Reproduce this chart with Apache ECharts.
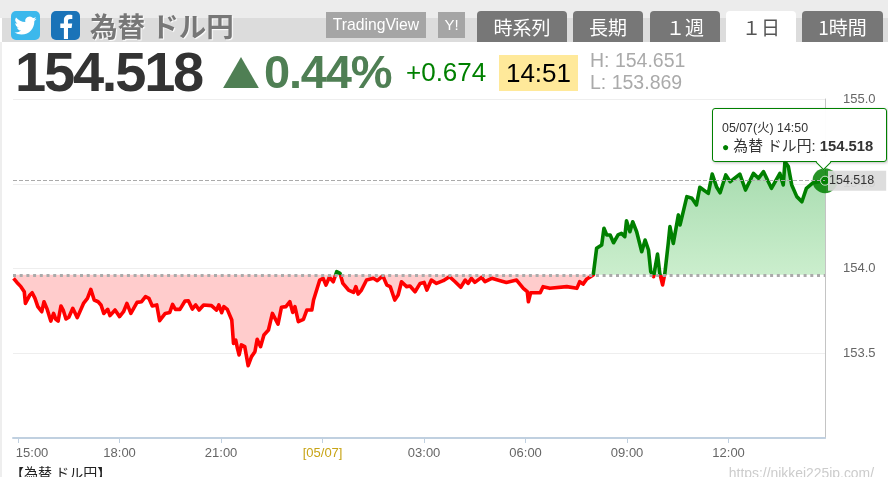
<!DOCTYPE html>
<html><head><meta charset="utf-8">
<script src="https://cdn.jsdelivr.net/npm/echarts@6/dist/echarts.min.js"></script>
<style>
html,body{margin:0;padding:0;background:#fff;width:888px;height:477px;overflow:hidden;font-family:"Liberation Sans",Arial,sans-serif}
#chart{position:absolute;left:0;top:0;width:888px;height:477px}
.a{position:absolute;white-space:nowrap;z-index:5}
.jp{font-family:"Noto Sans CJK JP","Liberation Sans",sans-serif}
.tab{top:11px;height:31px;line-height:31px;background:#777;color:#fff;text-align:center;border-radius:4px 4px 0 0;font-size:19px}
.btn{top:12px;height:26px;line-height:25px;background:#a5a5a5;color:#fff;text-align:center}
</style></head><body>
<div class="a" style="left:0;top:0;width:888px;height:18px;background:#ececec"></div>
<div class="a" style="left:2px;top:18px;width:886px;height:24px;background:#dcdcdc"></div>
<div class="a" style="left:0;top:42px;width:2px;height:435px;background:#eee"></div>
<svg class="a" style="left:11px;top:11px" width="29" height="29" viewBox="0 0 29 29"><rect width="29" height="29" rx="5" fill="#3cb8ec"/><path transform="translate(3.5,3.5) scale(0.92)" fill="#fff" d="M23.95 4.57a10 10 0 0 1-2.82.77 4.96 4.96 0 0 0 2.16-2.72c-.95.55-2 .95-3.12 1.18a4.92 4.92 0 0 0-8.38 4.48C7.69 8.09 4.07 6.13 1.64 3.16a4.9 4.9 0 0 0 1.52 6.56 4.9 4.9 0 0 1-2.23-.61v.06a4.92 4.92 0 0 0 3.95 4.83 5 5 0 0 1-2.21.08 4.94 4.94 0 0 0 4.6 3.42A9.87 9.87 0 0 1 0 19.54a13.94 13.94 0 0 0 7.55 2.21c9.05 0 14-7.5 14-14 0-.21 0-.42-.02-.63a9.9 9.9 0 0 0 2.46-2.55z"/></svg>
<svg class="a" style="left:51px;top:11px" width="29" height="29" viewBox="0 0 29 29"><rect width="29" height="29" rx="5" fill="#1a73b8"/><path fill="#fff" d="M19 29V18h3.6l.6-4.4H19v-2.6c0-1.3.4-2.1 2.2-2.1h2.1V5c-.4 0-1.700-.2-3.100-.2-3.200 0-5.300 1.900-5.300 5.500v3.300h-3.600V18h3.600v11z" transform="translate(-2,-1)"/></svg>
<div class="a jp" style="left:90px;top:5px;font-size:27.500px;line-height:40px;font-weight:700;color:#777;text-shadow:1px 1px 1px #fff">為替 ドル円</div>
<div class="a btn" style="left:326px;width:100px;font-size:15.7px">TradingView</div>
<div class="a btn" style="left:438px;width:27px;font-size:15px">Y!</div>
<div class="a tab jp" style="left:477px;width:90px">時系列</div>
<div class="a tab jp" style="left:573px;width:70px">長期</div>
<div class="a tab jp" style="left:650px;width:70px">１週</div>
<div class="a tab jp" style="left:726px;width:70px;background:#fff;color:#555">１日</div>
<div class="a tab jp" style="left:802px;width:81px">1時間</div>
<div class="a" style="left:15px;top:38px;font-size:56px;line-height:68px;font-weight:700;color:#333;letter-spacing:-2.200px">154.518</div>
<div class="a jp" style="left:222px;top:44px;font-size:38px;line-height:56px;color:#4f7f54">▲</div>
<div class="a" style="left:264px;top:44px;font-size:47px;line-height:56px;font-weight:700;color:#4f7f54;letter-spacing:-1.200px">0.44%</div>
<div class="a" style="left:406px;top:57px;font-size:26px;line-height:30px;color:#008000">+0.674</div>
<div class="a" style="left:499px;top:55px;width:79px;height:36px;line-height:37px;background:#ffe99a;color:#000;font-size:26px;text-align:center">14:51</div>
<div class="a" style="left:590px;top:48px;font-size:19.500px;line-height:24px;color:#aaa">H: 154.651</div>
<div class="a" style="left:590px;top:70px;font-size:19.500px;line-height:24px;color:#aaa">L: 153.869</div>
<div class="a jp" style="left:10px;top:462px;font-size:14px;line-height:20px;color:#222">【為替 ドル円】</div>
<div class="a" style="right:14px;top:463px;font-size:13.900px;line-height:20px;color:#ccc">https://nikkei225jp.com/</div>
<div id="chart"></div>
<script>
// minutes after 14:51 (05/06) and USD/JPY price
const minutes = [1,7,14,20,22,30,34,39,44,51,55,60,67,72,76,80,85,89,94,99,106,114,125,132,138,144,151,156,161,168,172,181,189,196,202,209,220,228,235,241,247,255,260,270,278,283,288,296,305,311,318,324,330,338,352,361,365,370,374,380,388,391,395,398,401,405,411,417,423,429,433,439,445,453,460,470,476,484,491,496,500,506,
515,521,530,533,544,550,555,561,568,574,580,585,595,604,608,612,618,627,639,646,656,663,669,677,683,689,698,704,713,722,729,734,742,751,763,774,784,794,802,807,813,819,831,837,849,864,875,893,905,912,914,918,935,940,952,982,1000,1005,1011,1017,
1020,1029,1035,1044,1048,1053,1059,1065,1073,1079,1085,1088,1094,1099,1106,1115,1121,1127,1131,1136,1143,1147,1152,1156,1162,1165,1171,1180,1183,1195,1204,1212,1218,1233,1240,1248,1254,1264,1272,1289,1299,1313,1322,1331,1345,1360,1366,1369,1375,1381,1390,1399,1407,1419,1440];
const prices = [153.942,153.918,153.893,153.863,153.794,153.844,153.857,153.824,153.775,153.745,153.804,153.765,153.690,153.735,153.700,153.690,153.779,153.755,153.702,153.712,153.765,153.710,153.794,153.824,153.877,153.814,153.804,153.785,153.735,153.759,153.722,153.755,153.716,153.745,153.794,153.735,153.800,153.804,153.834,153.824,153.779,153.785,153.692,153.735,153.741,153.788,153.759,153.759,153.808,153.810,153.761,153.785,153.755,153.785,153.781,153.755,153.785,153.739,153.775,153.759,153.696,153.558,153.578,153.529,153.490,153.549,153.539,153.427,153.480,153.509,153.582,153.539,153.608,153.637,153.735,153.672,153.771,153.775,153.804,153.741,153.775,153.686,
153.700,153.755,153.755,153.814,153.932,153.942,153.902,153.948,153.922,153.981,153.971,153.912,153.873,153.859,153.893,153.849,153.873,153.932,153.942,153.928,153.956,153.902,153.893,153.814,153.844,153.922,153.893,153.897,153.863,153.912,153.918,153.873,153.932,153.912,153.928,153.952,153.922,153.889,153.932,153.912,153.942,153.918,153.948,153.922,153.942,153.928,153.918,153.932,153.883,153.863,153.804,153.857,153.857,153.893,153.883,153.893,153.883,153.922,153.908,153.936,
153.932,153.962,154.119,154.139,154.237,154.198,154.198,154.152,154.198,154.207,154.188,154.282,154.217,154.276,154.217,154.099,154.168,154.109,153.981,153.952,154.085,153.971,153.903,153.971,154.148,154.247,154.148,154.316,154.257,154.424,154.414,154.375,154.479,154.443,154.557,154.479,154.447,154.552,154.512,154.557,154.463,154.561,154.532,154.571,154.473,154.561,154.493,154.630,154.601,154.493,154.424,154.394,154.473,154.506,154.518];
const basePrice = 153.963;
const tickMinutes = [9,189,369,549,729,909,1089,1269];
const tickLabels = ['15:00','18:00','21:00','[05/07]','03:00','06:00','09:00','12:00'];
const priceLabels = [153.5,154,154.5,155];
const seriesName = '為替 ドル円';

const line = minutes.map((m,i)=>[m,prices[i]]);
const above = minutes.map((m,i)=>[m,Math.max(prices[i],basePrice)]);
const below = minutes.map((m,i)=>[m,Math.min(prices[i],basePrice)]);
const last = line[line.length-1];
const GREEN='#008000', RED='#ff0000';

const chart = echarts.init(document.getElementById('chart'));
chart.setOption({
  animation:false,
  backgroundColor:'transparent',
  textStyle:{fontFamily:'"Liberation Sans",Arial,sans-serif'},
  grid:{left:13,right:63,top:99,bottom:39},
  xAxis:{type:'value',min:0,max:1440,
    axisLine:{show:true,onZero:false,lineStyle:{color:'#c0d0e0',width:2}},
    axisTick:{show:true,length:5,customValues:tickMinutes,lineStyle:{color:'#c0d0e0',width:1}},
    splitLine:{show:false},
    axisLabel:{customValues:tickMinutes,margin:9,fontSize:13,color:'#666',
      formatter:function(v){
        const s=tickLabels[tickMinutes.indexOf(v)];
        if(s==='15:00')return '{first|'+s+'}';
        if(s==='[05/07]')return '{date|'+s+'}';
        return s;},
      rich:{first:{fontSize:13,color:'#666',padding:[0,0,0,28]},date:{fontSize:13,color:'#c8a415'}}}},
  yAxis:{type:'value',position:'right',min:153,max:155,interval:0.5,
    axisLine:{show:true,onZero:false,lineStyle:{color:'#c4c4c4',width:1}},
    axisTick:{show:false},
    splitLine:{show:true,lineStyle:{color:'#eeeeee',width:1}},
    axisLabel:{customValues:priceLabels,margin:18,fontSize:13,color:'#666',formatter:v=>v.toFixed(1)}},
  visualMap:{show:false,type:'piecewise',seriesIndex:2,dimension:1,
    pieces:[{gte:100,lte:basePrice,color:RED},{gt:basePrice,lte:200,color:GREEN}]},
  tooltip:{trigger:'item',triggerOn:'none',alwaysShowContent:true,transitionDuration:0,
    padding:0,backgroundColor:'transparent',borderWidth:0,extraCssText:'box-shadow:none;',
    position:function(){return [712,108];},
    formatter:function(){
      return '<div style="position:relative;box-sizing:border-box;width:175px;height:54px;background:rgba(255,255,255,.96);border:1px solid #008000;border-radius:3px;box-shadow:1px 1px 3px rgba(0,0,0,.25);font-family:\'Liberation Sans\',\'Noto Sans CJK JP\',sans-serif;color:#333;padding:11px 0 0 9px;line-height:16px">'
      +'<div style="font-size:12.4px;height:18px">05/07(火) 14:50</div>'
      +'<div style="font-size:14.8px;white-space:nowrap"><span style="color:#008000;font-size:12px">●</span> '+seriesName+': <b>'+last[1].toFixed(3)+'</b></div>'
      +'<div style="position:absolute;left:105px;top:48px;width:10px;height:10px;background:#fff;border-right:1px solid #008000;border-bottom:1px solid #008000;transform:rotate(45deg)"></div>'
      +'</div>';}},
  series:[
    {type:'line',name:'above',data:above,showSymbol:false,silent:true,tooltip:{show:false},z:2,
     lineStyle:{width:0},
     areaStyle:{origin:basePrice,opacity:1,color:new echarts.graphic.LinearGradient(0,0,0,1,[{offset:0,color:'#a6dbae'},{offset:1,color:'#cbeecd'}])}},
    {type:'line',name:'below',data:below,showSymbol:false,silent:true,tooltip:{show:false},z:2,
     lineStyle:{width:0},
     areaStyle:{origin:basePrice,opacity:1,color:'#ffcccc'}},
    {type:'line',name:seriesName,data:line,showSymbol:false,silent:true,tooltip:{show:false},z:4,
     lineStyle:{width:3.6,join:'round'},
     markLine:{silent:true,symbol:'none',animation:false,precision:3,z:8,
      data:[
       {yAxis:basePrice,label:{show:false},lineStyle:{color:'#aaaaaa',type:[3,3.7],width:3}},
       {yAxis:last[1],lineStyle:{color:'#aaaaaa',type:[4,2],width:1},
        label:{show:true,position:'end',distance:3,formatter:last[1].toFixed(3),fontSize:12.5,color:'#333',
               backgroundColor:'rgba(218,218,218,.93)',padding:[4,12,4,1],lineHeight:12}}
      ]}},
    {type:'scatter',data:[last],symbolSize:25,silent:true,tooltip:{show:false},z:6,
     itemStyle:{color:GREEN,opacity:0.85}},
    {type:'scatter',name:seriesName,data:[last],symbolSize:9,z:7,
     itemStyle:{color:GREEN,borderColor:'#fff',borderWidth:1}}
  ]
});
chart.dispatchAction({type:'showTip',seriesIndex:4,dataIndex:0});
</script>
</body></html>
